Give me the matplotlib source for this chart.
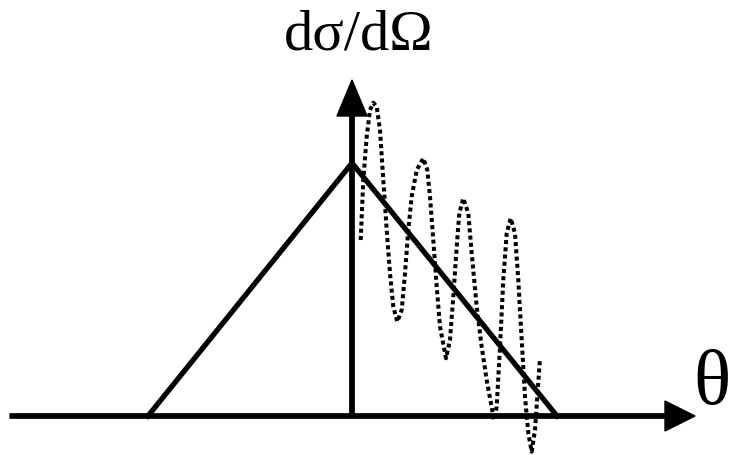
import matplotlib
matplotlib.use("Agg")
import matplotlib.pyplot as plt

# Schematic cross section: classical triangle vs. oscillating diffraction pattern
triangle_theta = [-204, 0, 205]
triangle_sigma = [0, 253, 0]

wave_theta = [8.7, 11.3, 14.7, 18, 21.3, 24.7, 28, 31.3, 34.7, 38, 41.3, 45.3,
              49.7, 53, 56.3, 59.7, 64.7, 71.3, 75.3, 78, 81.3, 84.7, 88, 94,
              98, 101.3, 104.7, 107.3, 111.3, 116.3, 119.7, 124.7, 129.7, 134.7,
              142, 144.7, 148, 151.3, 154.7, 158.7, 163, 166.3, 169.7, 173,
              176.3, 179.7, 183, 185.3, 188]
wave_sigma = [176, 236, 279.3, 306, 313.3, 309.3, 286, 236, 186, 142.7, 109.3, 94.3,
              106, 142.7, 186, 219.3, 246, 257.7, 246, 219.3, 176, 129.3, 89.3, 57.7,
              76, 119.3, 169.3, 202.7, 217.7, 202.7, 162.7, 109.3, 69.3, 36,
              -4, 9.3, 69.3, 136, 182.7, 197.7, 182.7, 136, 76, 19.3,
              -17.3, -35.7, -14, 19.3, 57.7]

y_label = "dσ/dΩ"
x_label = "θ"

fig = plt.figure(figsize=(7.35, 4.55), dpi=100)
ax = fig.add_axes([0, 0, 1, 1])
ax.set_xlim(-352, 383)
ax.set_ylim(-39, 416)
ax.axis("off")

serif = ["Liberation Serif", "DejaVu Serif"]

# axes arrows
ax.arrow(-342, 0, 685, 0, width=4.3, head_width=30, head_length=30,
         length_includes_head=True, color="black", zorder=2)
ax.arrow(0, 0, 0, 336, width=4.3, head_width=30, head_length=36,
         length_includes_head=True, color="black", zorder=2)

ax.plot(triangle_theta, triangle_sigma, color="black", lw=3.8,
        solid_joinstyle="miter", zorder=3)
ax.plot(wave_theta, wave_sigma, color="black", lw=2.9, linestyle=(0, (1, 0.8)),
        dash_capstyle="butt", zorder=4)

ax.text(7, 366, y_label, fontsize=42, family=serif, ha="center", va="baseline")
ax.text(360, 31, x_label, fontsize=56, family=serif, ha="center", va="center")

fig.savefig("out.png", dpi=100)
